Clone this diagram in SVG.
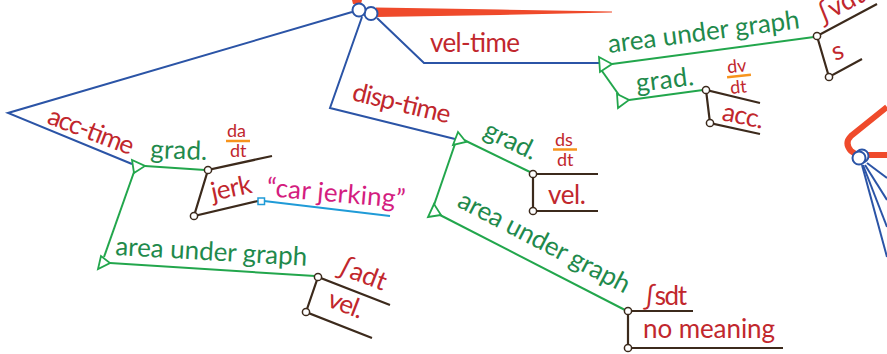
<svg xmlns="http://www.w3.org/2000/svg" width="887" height="354" viewBox="0 0 887 354">
<style>
.blue{stroke:#2b54a6;stroke-width:2;fill:none}
.green{stroke:#22a64c;stroke-width:2;fill:none}
.brown{stroke:#3c2a1c;stroke-width:2.2;fill:none}
.tri{stroke:#22a64c;stroke-width:1.8;fill:#fff}
.dot{fill:#fff;stroke:#3c2a1c;stroke-width:1.5}
.hub{fill:#fff;stroke:#2b54a6;stroke-width:2}
text{font-family:Lato,"Open Sans",sans-serif}
.lbl{font-size:26px}
.frac{font-size:18px}
.red{fill:#c1272d}
.gt{fill:#1f8a4c}
.pink{fill:#d41d7f}
.bar{stroke:#f7941d;stroke-width:2.5}
</style>
<rect width="887" height="354" fill="#fff"/>
<g id="connectors">
  <polyline class="blue" points="352,12 8,113 132,164"/>
  <polyline class="blue" points="362,17 330,108 455,139"/>
  <polyline class="blue" points="377,18 424,63 599,63"/>
  <line class="green" x1="145" y1="166" x2="205" y2="170"/>
  <line class="green" x1="134" y1="172" x2="104" y2="257"/>
  <line class="green" x1="110" y1="263" x2="315" y2="276"/>
  <line class="green" x1="612" y1="64" x2="814" y2="37"/>
  <line class="green" x1="602" y1="71" x2="619" y2="95"/>
  <line class="green" x1="629" y1="100" x2="703" y2="90"/>
  <line class="green" x1="464" y1="140" x2="530" y2="172"/>
  <line class="green" x1="455" y1="144" x2="434" y2="205"/>
  <line class="green" x1="440" y1="215" x2="625" y2="310"/>
  <polyline class="brown" points="272,156 208,170 194,216 258,201"/>
  <line x1="264" y1="201" x2="390" y2="216" stroke="#1f9bd7" stroke-width="2"/>
  <polyline class="brown" points="390,305 318,277 306,312 372,338"/>
  <polyline class="brown" points="877,4 817,36 829,77 862,59"/>
  <polyline class="brown" points="760,103 706,90 710,123 760,134"/>
  <polyline class="brown" points="598,174 533,174 533,211 598,211"/>
  <polyline class="brown" points="693,311 628,311 628,348 783,348"/>
  <g id="hub-right-lines">
    <line class="blue" x1="867" y1="163" x2="887" y2="178"/>
    <line class="blue" x1="865" y1="165" x2="887" y2="200"/>
    <line class="blue" x1="863" y1="165" x2="887" y2="227"/>
    <line class="blue" x1="862" y1="165" x2="887" y2="257"/>
  </g>
</g>
<g id="hub-top">
  <polygon points="352,0 362,0 361,4 353,4" fill="#ef4a2b"/>
  <polygon points="376,7.5 500,9.5 612,11.6 612,12.4 500,15 376,17" fill="#ef4a2b"/>
  <circle class="hub" cx="371" cy="13.5" r="6.5"/>
  <circle class="hub" cx="359" cy="10" r="6.5"/>
</g>
<g id="hub-right">
  <path d="M887,107 L851,136 Q844,143 851,151 L857,155" fill="none" stroke="#ef4a2b" stroke-width="6"/>
  <line x1="866" y1="155" x2="887" y2="155" stroke="#ef4a2b" stroke-width="6"/>
  <circle class="hub" cx="862" cy="156" r="6.5"/>
  <circle class="hub" cx="859" cy="158" r="6.5"/>
</g>
<g id="acc-time">
  <text class="lbl red" transform="translate(46,123) rotate(21)" textLength="90">acc-time</text>
  <polygon class="tri" points="132,160 134,173 145,166"/>
  <polygon class="tri" points="101,256 98,269 110,263"/>
</g>
<g id="acc-grad">
  <text class="lbl gt" transform="translate(150,158) rotate(2)" textLength="57">grad.</text>
  <text class="frac red" x="227" y="137">da</text>
  <line class="bar" x1="226" y1="141" x2="250" y2="141"/>
  <text class="frac red" x="230" y="157">dt</text>
  <circle class="dot" cx="208" cy="170" r="3.6"/>
  <circle class="dot" cx="194" cy="216" r="3.6"/>
</g>
<g id="acc-jerk">
  <text class="lbl red" transform="translate(213,201) rotate(-12)" textLength="41">jerk</text>
  <rect x="258" y="198" width="6.5" height="6.5" fill="#fff" stroke="#1f9bd7" stroke-width="1.5"/>
</g>
<g id="car-jerking">
  <text class="lbl pink" transform="translate(266,196) rotate(5)" textLength="139">“car jerking”</text>
</g>
<g id="acc-area">
  <text class="lbl gt" transform="translate(115,255) rotate(3.2)" textLength="192">area under graph</text>
  <text class="lbl red" transform="translate(336,273) rotate(21)" textLength="50">∫adt</text>
  <text class="lbl red" transform="translate(326,306) rotate(21)" textLength="36">vel.</text>
  <circle class="dot" cx="318" cy="277" r="3.6"/>
  <circle class="dot" cx="306" cy="312" r="3.6"/>
</g>
<g id="vel-time">
  <text class="lbl red" x="430" y="52" textLength="90">vel-time</text>
  <polygon class="tri" points="599,57 600,72 612,64"/>
  <polygon class="tri" points="617,94 618,108 629,100"/>
</g>
<g id="vel-area">
  <text class="lbl gt" transform="translate(609,53) rotate(-7.4)" textLength="193">area under graph</text>
  <text class="lbl red" transform="translate(822,24) rotate(-28)" textLength="50">∫vdt</text>
  <text class="lbl red" transform="translate(835,61) rotate(-20)">s</text>
  <circle class="dot" cx="817" cy="36" r="3.6"/>
  <circle class="dot" cx="829" cy="77" r="3.6"/>
</g>
<g id="vel-grad">
  <text class="lbl gt" transform="translate(637,92) rotate(-7)" textLength="58">grad.</text>
  <g transform="rotate(-6 740 76)">
    <text class="frac red" x="728" y="72">dv</text>
    <line class="bar" x1="727" y1="76" x2="751" y2="76"/>
    <text class="frac red" x="729" y="93">dt</text>
  </g>
  <text class="lbl red" transform="translate(721,120) rotate(12)" textLength="42">acc.</text>
  <circle class="dot" cx="706" cy="90" r="3.6"/>
  <circle class="dot" cx="710" cy="123" r="3.6"/>
</g>
<g id="disp-time">
  <text class="lbl red" transform="translate(351,100) rotate(13.5)" textLength="100">disp-time</text>
  <polygon class="tri" points="458,132 453,145 466,142"/>
  <polygon class="tri" points="434,204 428,217 441,215"/>
</g>
<g id="disp-grad">
  <text class="lbl gt" transform="translate(482,136) rotate(26)" textLength="56">grad.</text>
  <text class="frac red" x="555" y="146">ds</text>
  <line class="bar" x1="553" y1="149.5" x2="577" y2="149.5"/>
  <text class="frac red" x="557" y="166">dt</text>
  <text class="lbl red" x="548" y="204" textLength="38">vel.</text>
  <circle class="dot" cx="533" cy="174" r="3.6"/>
  <circle class="dot" cx="533" cy="211" r="3.6"/>
</g>
<g id="disp-area">
  <text class="lbl gt" transform="translate(456,206) rotate(27.5)" textLength="190">area under graph</text>
  <text class="lbl red" x="643" y="305" textLength="44">∫sdt</text>
  <text class="lbl red" x="643" y="338" textLength="132">no meaning</text>
  <circle class="dot" cx="628" cy="311" r="3.6"/>
  <circle class="dot" cx="628" cy="348" r="3.6"/>
</g>
</svg>
